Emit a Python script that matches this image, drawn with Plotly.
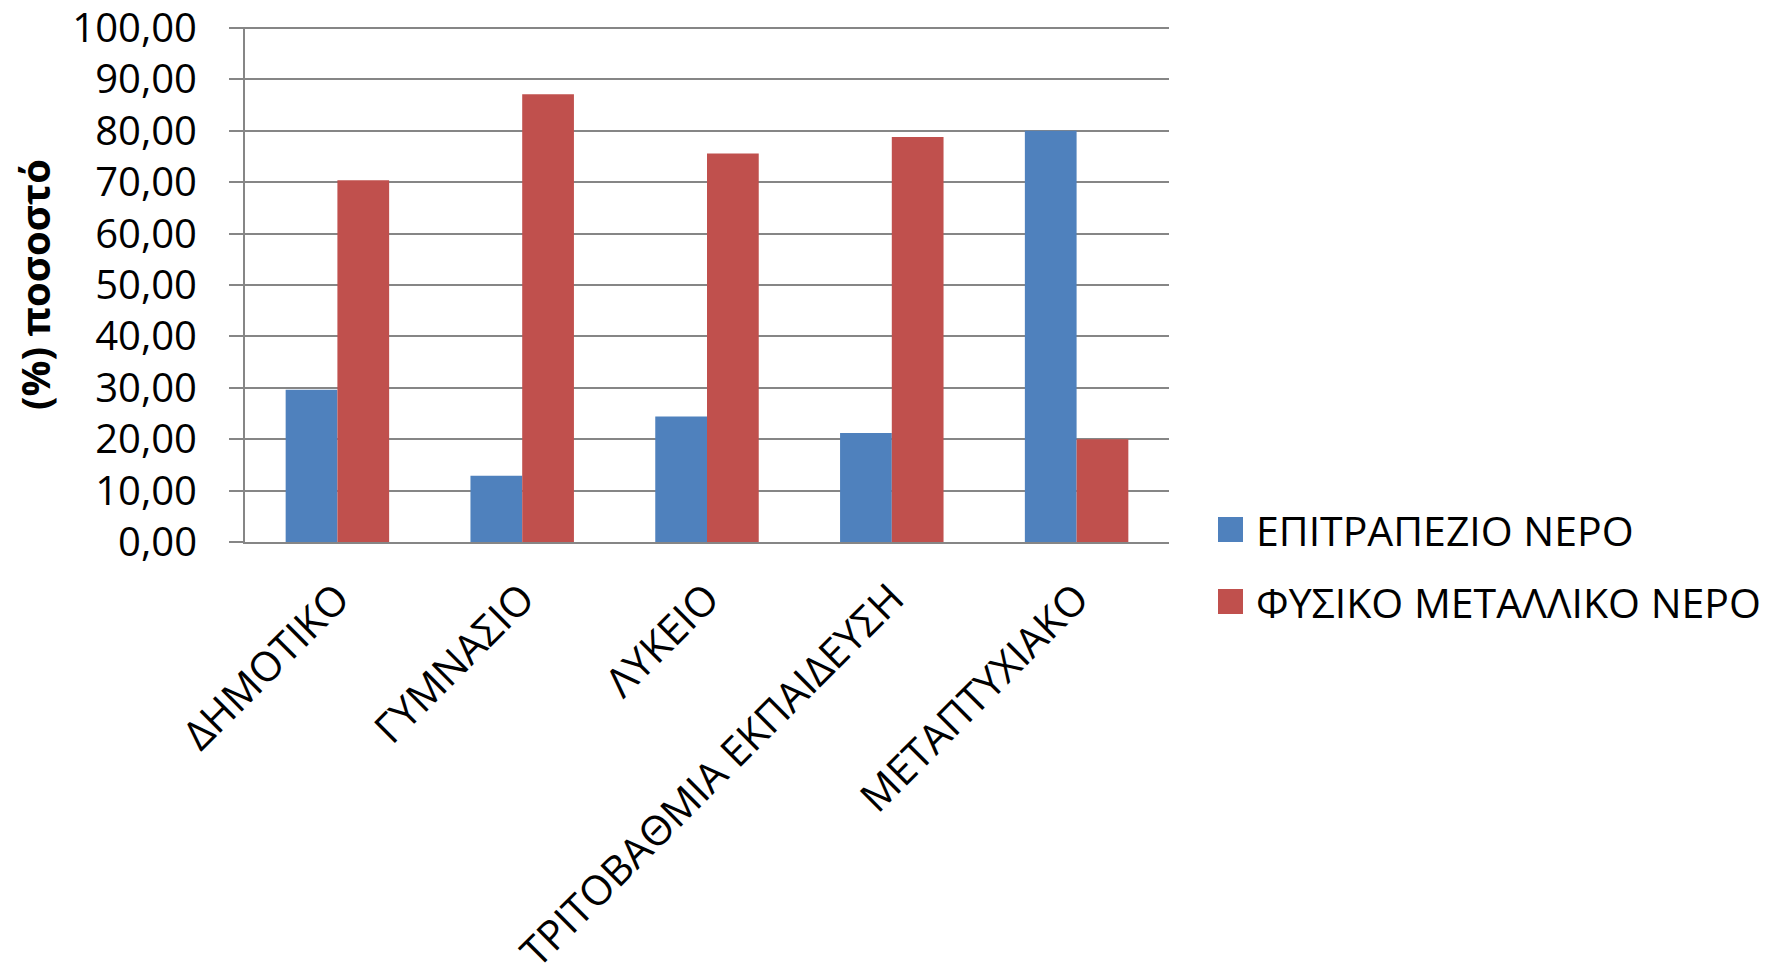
import plotly.graph_objects as go

categories = ["ΔΗΜΟΤΙΚΟ", "ΓΥΜΝΑΣΙΟ", "ΛΥΚΕΙΟ", "ΤΡΙΤΟΒΑΘΜΙΑ ΕΚΠΑΙΔΕΥΣΗ", "ΜΕΤΑΠΤΥΧΙΑΚΟ"]
series_names = ["ΕΠΙΤΡΑΠΕΖΙΟ ΝΕΡΟ", "ΦΥΣΙΚΟ ΜΕΤΑΛΛΙΚΟ ΝΕΡΟ"]
epitrapezio = [29.6, 12.9, 24.4, 21.2, 80.0]
fysiko = [70.4, 87.1, 75.6, 78.8, 20.0]
y_ticks = [0, 10, 20, 30, 40, 50, 60, 70, 80, 90, 100]
colors = ["#4F81BD", "#C0504D"]
y_title = "(%) ποσοστό"

FONT = "Open Sans"

fig = go.Figure()
for name, vals, col in zip(series_names, [epitrapezio, fysiko], colors):
    fig.add_trace(go.Bar(x=categories, y=vals, name=name, marker_color=col,
                         marker_line_width=0, showlegend=False))

W, H = 1788, 976
L, R, T, B = 237, 627, 19, 442

fig.update_layout(
    width=W, height=H,
    margin=dict(l=L, r=R, t=T, b=B, autoexpand=False),
    paper_bgcolor="white", plot_bgcolor="white",
    barmode="group", bargap=0.44, bargroupgap=0,
    separators=",.",
    font=dict(family=FONT, color="black"),
    xaxis=dict(tickangle=-45, tickfont=dict(size=41, family=FONT), showgrid=False,
               showline=True, linecolor="#868686", linewidth=2, ticks="",
               ticklabelstandoff=14, automargin=False),
    yaxis=dict(range=[0, 100.2], tickmode="array", tickvals=y_ticks, tickformat=".2f",
               tickfont=dict(size=40, family=FONT), ticklabeloverflow="allow",
               ticklabelstandoff=24,
               showgrid=True, gridcolor="#868686", gridwidth=2,
               showline=True, linecolor="#868686", linewidth=2,
               ticks="outside", ticklen=14, tickcolor="#868686", tickwidth=2,
               zeroline=False, automargin=False),
)

plot_h = H - T - B
plot_w = W - L - R

# y axis title placed as rotated annotation
fig.add_annotation(xref="paper", yref="paper", x=(26 - L) / plot_w, y=(H - B - 277) / plot_h,
                   text="<b>" + y_title + "</b>", textangle=-90, showarrow=False,
                   xanchor="center", yanchor="middle",
                   font=dict(size=40, family=FONT, color="black"))

# manual legend (larger square markers like the original)
leg_x_px = 1210
leg_y_px = [522, 594]
for name, col, ypx in zip(series_names, colors, leg_y_px):
    x0 = (leg_x_px - L) / plot_w
    x1 = (leg_x_px + 25 - L) / plot_w
    y0 = (H - B - (ypx + 12)) / plot_h
    y1 = (H - B - (ypx - 13)) / plot_h
    fig.add_shape(type="rect", xref="paper", yref="paper", x0=x0, x1=x1, y0=y0, y1=y1,
                  fillcolor=col, line_width=0)
    fig.add_annotation(xref="paper", yref="paper", x=(leg_x_px + 36 - L) / plot_w,
                       y=(H - B - ypx) / plot_h, text=name, showarrow=False,
                       xanchor="left", yanchor="middle",
                       font=dict(size=41, family=FONT, color="black"))

fig.write_html("out.html")
